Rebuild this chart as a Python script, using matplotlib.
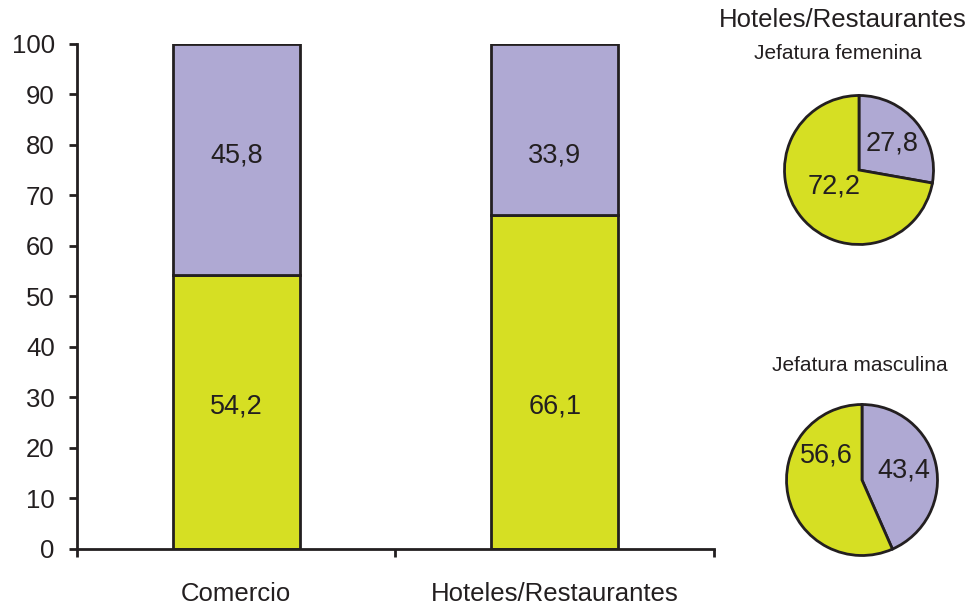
import numpy as np
import matplotlib as mpl
import matplotlib.pyplot as plt

mpl.rcParams['font.family'] = ['Liberation Sans', 'DejaVu Sans']
mpl.rcParams['text.color'] = '#231F20'

# data
sectores = ['Comercio', 'Hoteles/Restaurantes']
parte_baja = [54.2, 66.1]
parte_alta = [45.8, 33.9]

pie_titulo = 'Hoteles/Restaurantes'
pie_femenina = [27.8, 72.2]
pie_masculina = [43.4, 56.6]

verde = '#D6DF23'
lila = '#AFA9D3'
borde = '#231F20'
lw = 2.0


def fmt(v):
    return '{:.1f}'.format(v).replace('.', ',')


fig = plt.figure(figsize=(9.71, 6.11), dpi=100)

# stacked bars
ax = fig.add_axes([0.0793, 0.1015, 0.656, 0.8265])
x = np.arange(len(sectores))
ax.bar(x, parte_baja, width=0.4, color=verde, edgecolor=borde, linewidth=lw)
ax.bar(x, parte_alta, width=0.4, bottom=parte_baja, color=lila,
       edgecolor=borde, linewidth=lw)
# value labels sit at the same height on both bars
for xi, lo, hi in zip(x, parte_baja, parte_alta):
    ax.text(xi, 28.2, fmt(lo), ha='center', va='center', fontsize=19.5)
    ax.text(xi, 77.9, fmt(hi), ha='center', va='center', fontsize=19.5)

ax.set_xlim(-0.5, len(sectores) - 0.5)
ax.set_ylim(0, 100)
ax.set_yticks(np.arange(0, 101, 10))
ax.set_xticks(x)
ax.set_xticklabels(sectores)
ax.set_xticks(np.arange(-0.5, len(sectores), 1.0), minor=True)
ax.tick_params(axis='y', length=6, width=lw, pad=10, labelsize=18.5,
               colors=borde)
ax.tick_params(axis='x', which='major', length=0, pad=24, labelsize=18.5,
               colors=borde)
ax.tick_params(axis='x', which='minor', length=6, width=lw, color=borde)
for s in ['top', 'right']:
    ax.spines[s].set_visible(False)
for s in ['left', 'bottom']:
    ax.spines[s].set_linewidth(lw)
    ax.spines[s].set_color(borde)

# pies
fig.text(0.868, 0.967, pie_titulo, ha='center', va='center', fontsize=18.5)
fig.text(0.863, 0.912, 'Jefatura femenina', ha='center', va='center', fontsize=15)
fig.text(0.886, 0.401, 'Jefatura masculina', ha='center', va='center', fontsize=15)

pie_axes = [
    (pie_femenina, [(859 - 76) / 971, 1 - (170 + 76) / 611, 152 / 971, 152 / 611],
     [(0.45, 0.35), (-0.34, -0.22)]),
    (pie_masculina, [(862 - 77) / 971, 1 - (480 + 77) / 611, 154 / 971, 154 / 611],
     [(0.55, 0.13), (-0.47, 0.33)]),
]
for vals, rect, label_pos in pie_axes:
    pax = fig.add_axes(rect)
    pax.pie(vals, colors=[lila, verde], startangle=90,
            counterclock=False, radius=1,
            wedgeprops=dict(edgecolor=borde, linewidth=lw))
    for v, (px, py) in zip(vals, label_pos):
        pax.text(px, py, fmt(v), ha='center', va='center', fontsize=19.5)
    pax.set_xlim(-1.02, 1.02)
    pax.set_ylim(-1.02, 1.02)
    pax.set_aspect('equal')

fig.savefig('out.png', dpi=100)
